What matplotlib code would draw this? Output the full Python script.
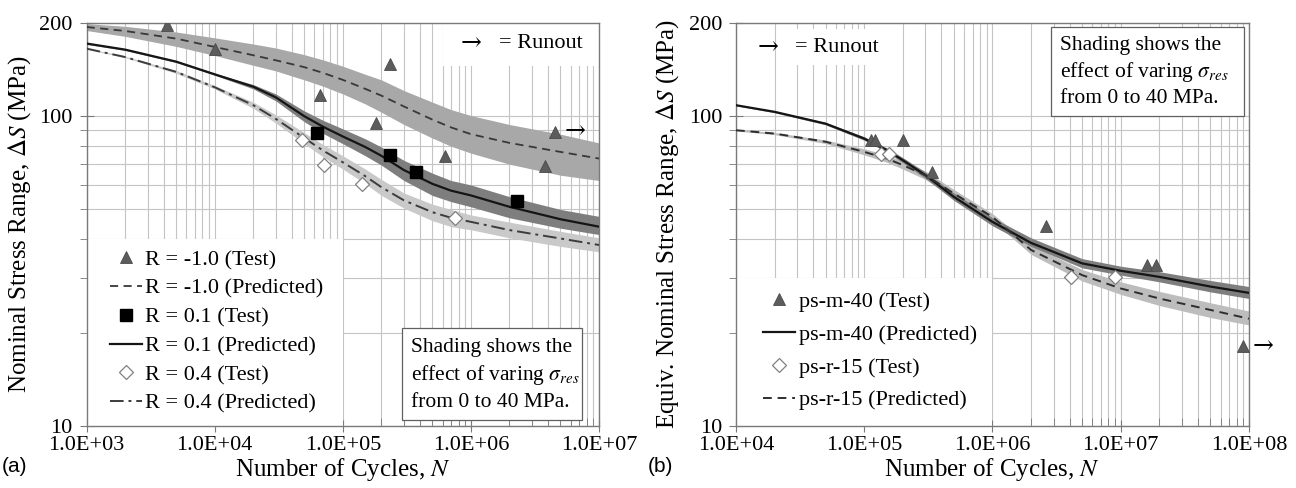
import numpy as np
import matplotlib
matplotlib.use("Agg")
from matplotlib import pyplot as plt
from matplotlib.patches import Rectangle
from matplotlib.ticker import FixedLocator, NullFormatter, FuncFormatter, LogLocator

plt.rcParams['font.family'] = ['Liberation Serif', 'DejaVu Serif']
plt.rcParams['mathtext.fontset'] = 'stix'

# ---------------- panel (a) data ----------------
a_n = [1e3, 2e3, 5e3, 1e4, 2e4, 3e4, 5e4, 7e4, 1e5, 1.5e5, 2e5, 3e5, 5e5, 7e5, 1e6, 2e6, 5e6, 1e7]

rm1_pred = [194, 188.4, 178, 167.3, 157.3, 151.5, 144, 138, 131, 122.5, 116.5, 107.5, 97.5, 92, 87.5, 82, 76.7, 73]
rm1_hi = [199, 195, 187, 179, 171, 166, 158, 152, 145, 136.5, 131, 121, 111, 105, 100.5, 94, 87.5, 82]
rm1_lo = [189, 181, 168, 157, 146, 140, 131, 125, 118, 109.5, 103, 94, 85, 80, 76, 70, 64.5, 62]

r01_pred = [171.6, 164, 150, 136.5, 124.5, 115, 100, 92.5, 86, 79.5, 74.5, 67, 60.5, 57.5, 55.5, 51, 46.5, 44]
r01_hi = [172.5, 165, 151, 137.5, 126.5, 118, 104, 97, 91, 84.5, 79.5, 72, 65.5, 62, 60, 55, 50, 47.5]
r01_lo = [170.5, 163, 149, 135.5, 122.5, 112, 96, 88, 81.5, 74.5, 69.5, 62, 55.5, 53, 51, 47, 43.5, 41.5]

r04_pred = [165.2, 155.2, 139, 124, 108.5, 98, 85, 77.5, 71, 64, 59, 53.5, 49, 47, 45.6, 42.9, 40.3, 38.4]
r04_hi = [166, 156, 140.5, 125.5, 111, 101, 88.5, 81, 74.5, 67.5, 62.5, 56.5, 52, 50, 48, 45.5, 42.5, 40.5]
r04_lo = [164.5, 154.5, 137.5, 122.5, 106, 95, 81.5, 74, 67.5, 60.5, 55.5, 50.5, 46, 44, 43, 40.5, 38, 36.5]

rm1_test_n = [4.2e3, 1.0e4, 6.6e4, 2.33e5, 1.81e5, 6.3e5, 3.8e6, 4.56e6]
rm1_test_s = [197, 165, 117, 147, 95, 74.4, 69, 89]
r01_test_n = [6.25e4, 2.33e5, 3.75e5, 2.27e6]
r01_test_s = [88.3, 75.2, 66.3, 53.4]
r04_test_n = [4.8e4, 7.1e4, 1.41e5, 7.5e5]
r04_test_s = [83.9, 69.8, 60.6, 46.8]
a_runout = (4.56e6, 89)

# ---------------- panel (b) data ----------------
b_n = [1e4, 2e4, 5e4, 1e5, 1.5e5, 2e5, 3e5, 5e5, 1e6, 2e6, 5e6, 1e7, 2e7, 5e7, 1e8]

m40_pred = [108.5, 103.3, 94.6, 84.7, 77.7, 72.1, 64.5, 54.9, 45.6, 39, 33.5, 31.7, 30.3, 28.2, 26.9]
m40_hi = [109, 104, 95.5, 85.8, 79, 73.5, 66, 56.5, 47, 40.5, 34.7, 32.8, 31.5, 29.5, 28.2]
m40_lo = [108, 102.6, 93.8, 83.6, 76.5, 70.8, 63, 53.5, 44.3, 38, 32.4, 30.7, 29.2, 27.1, 25.8]

r15_pred = [90.1, 87.9, 82.7, 76.7, 73, 69.5, 64.5, 56.3, 47.3, 37, 30.7, 27.8, 25.8, 23.7, 22.2]
r15_hi = [90.6, 88.6, 83.8, 78.5, 75, 71.5, 66.5, 58, 48.5, 38.3, 32, 29.2, 27.2, 25, 23.5]
r15_lo = [89.6, 87.2, 81.6, 75, 71, 67.5, 62.5, 54.5, 46, 35.8, 29.4, 26.6, 24.5, 22.4, 21.2]

m40_test_n = [1.13e5, 1.22e5, 2.0e5, 3.38e5, 2.63e6, 1.6e7, 1.9e7, 9.0e7]
m40_test_s = [84, 84, 84, 66, 44.2, 33, 33, 18.1]
r15_test_n = [1.35e5, 1.56e5, 4.07e6, 9.1e6]
r15_test_s = [75.6, 75.6, 30.2, 30.2]
b_runout = (9.0e7, 18.1)

TRI = dict(marker='^', ls='none', ms=9, mfc='#5c5c5c', mec='#4a4a4a', mew=0.6)
SQR = dict(marker='s', ls='none', ms=8.5, mfc='black', mec='black')
DIA = dict(marker='D', ls='none', ms=7, mfc='white', mec='#808080', mew=0.9)

FS_TICK = 16
FS_LAB = 18
FS_LEG = 16
FS_NOTE = 15.5


def style_axes(ax, xmin, xmax):
    ax.set_xscale('log')
    ax.set_yscale('log')
    ax.set_xlim(xmin, xmax)
    ax.set_ylim(10, 200)
    ax.set_axisbelow(True)
    ax.xaxis.set_major_locator(LogLocator(base=10, numticks=20))
    ax.xaxis.set_minor_locator(LogLocator(base=10, subs=np.arange(2, 10), numticks=20))
    ax.xaxis.set_major_formatter(FuncFormatter(lambda v, p: f"{v:.1E}"))
    ax.xaxis.set_minor_formatter(NullFormatter())
    ax.yaxis.set_major_locator(FixedLocator([10, 100, 200]))
    ax.yaxis.set_minor_locator(FixedLocator([20, 30, 40, 50, 60, 70, 80, 90]))
    ax.yaxis.set_major_formatter(FuncFormatter(lambda v, p: f"{v:g}"))
    ax.yaxis.set_minor_formatter(NullFormatter())
    ax.grid(True, which='both', color='#c4c4c4', lw=0.8)
    for sp in ax.spines.values():
        sp.set_color('#7a7a7a')
        sp.set_linewidth(1.0)
    ax.tick_params(axis='x', which='major', direction='inout', length=8, color='#7a7a7a',
                   labelsize=FS_TICK, pad=3)
    ax.tick_params(axis='x', which='minor', direction='in', length=6, color='#7a7a7a')
    ax.tick_params(axis='y', which='major', direction='inout', length=10, color='#7a7a7a',
                   labelsize=FS_TICK, pad=5)
    ax.tick_params(axis='y', which='minor', direction='out', length=5, color='#7a7a7a')
    ax.set_xlabel("Number of Cycles, $N$", fontsize=FS_LAB)
    ax.xaxis.set_label_coords(0.5, -0.074)


def runout_arrow(ax, pt):
    ax.annotate("\u2192", xy=pt, xytext=(7, 0), textcoords='offset points',
                ha='left', va='center', fontsize=18, annotation_clip=False,
                family=['DejaVu Serif'])


def shading_note(ax, x0, y0, w, h):
    ax.add_patch(Rectangle((x0, y0), w, h, transform=ax.transAxes, fc='white',
                           ec='#606060', lw=0.9, zorder=6))
    lines = ["Shading shows the", r"effect of varing $\sigma_{res}$", "from 0 to 40 MPa."]
    step = h / 3.35
    for i, t in enumerate(lines):
        ax.text(x0 + 0.018, y0 + h - step * (i + 0.7), t, transform=ax.transAxes,
                ha='left', va='center', fontsize=FS_NOTE, zorder=7)


fig = plt.figure(figsize=(12.96, 4.88), dpi=100)
ax1 = fig.add_axes([0.0669, 0.127, 0.3953, 0.826])
ax2 = fig.add_axes([0.5679, 0.127, 0.3958, 0.826])

# ---------------- panel (a) ----------------
style_axes(ax1, 1e3, 1e7)
ax1.fill_between(a_n, rm1_lo, rm1_hi, color='#a8a8a8', lw=0, zorder=1)
ax1.fill_between(a_n, r04_lo, r04_hi, color='#c9c9c9', lw=0, zorder=1)
ax1.fill_between(a_n, r01_lo, r01_hi, color='#7e7e7e', lw=0, zorder=1.1)
l_rm1, = ax1.plot(a_n, rm1_pred, color='#383838', lw=1.3, ls=(0, (4.5, 3)), zorder=3)
l_r01, = ax1.plot(a_n, r01_pred, color='#151515', lw=1.6, zorder=3)
l_r04, = ax1.plot(a_n, r04_pred, color='#3c3c3c', lw=1.4, ls=(0, (7, 2.5, 1.5, 2.5)), zorder=3)
m_rm1, = ax1.plot(rm1_test_n, rm1_test_s, zorder=4, **TRI)
m_r01, = ax1.plot(r01_test_n, r01_test_s, zorder=4, **SQR)
m_r04, = ax1.plot(r04_test_n, r04_test_s, zorder=4, **DIA)
runout_arrow(ax1, a_runout)

ax1.set_ylabel(r"Nominal Stress Range, $\Delta S$ (MPa)", fontsize=FS_LAB)
ax1.yaxis.set_label_coords(-0.105, 0.5)

# white areas behind legend and runout key
ax1.add_patch(Rectangle((1e3, 10), 1e5 - 1e3, 30, fc='white', ec='none', zorder=1.5))
ax1.add_patch(Rectangle((0.695, 0.892), 0.305, 0.108, transform=ax1.transAxes,
                        fc='white', ec='none', zorder=1.5))
ax1.text(0.75, 0.95, "\u2192", transform=ax1.transAxes, ha='center', va='center',
         fontsize=18, family=['DejaVu Serif'], zorder=5)
ax1.text(0.968, 0.95, "= Runout", transform=ax1.transAxes, ha='right', va='center',
         fontsize=FS_LEG, zorder=5)

leg1 = ax1.legend([m_rm1, l_rm1, m_r01, l_r01, m_r04, l_r04],
                  ["R = -1.0 (Test)", "R = -1.0 (Predicted)", "R = 0.1 (Test)",
                   "R = 0.1 (Predicted)", "R = 0.4 (Test)", "R = 0.4 (Predicted)"],
                  loc='upper left', bbox_to_anchor=(0.0455, 0.438), frameon=False,
                  fontsize=FS_LEG, handlelength=1.45, handletextpad=0.14, labelspacing=0.37,
                  borderaxespad=0, borderpad=0)
leg1.set_zorder(6)
shading_note(ax1, 0.615, 0.015, 0.352, 0.228)

# ---------------- panel (b) ----------------
style_axes(ax2, 1e4, 1e8)
ax2.fill_between(b_n, r15_lo, r15_hi, color='#bdbdbd', lw=0, zorder=1)
ax2.fill_between(b_n, m40_lo, m40_hi, color='#7e7e7e', lw=0, zorder=1.1)
l_m40, = ax2.plot(b_n, m40_pred, color='#151515', lw=1.6, zorder=3)
l_r15, = ax2.plot(b_n, r15_pred, color='#2e2e2e', lw=1.4, ls=(0, (4.5, 3)), zorder=3)
m_m40, = ax2.plot(m40_test_n, m40_test_s, zorder=4, **TRI)
m_r15, = ax2.plot(r15_test_n, r15_test_s, zorder=4, **DIA)
runout_arrow(ax2, b_runout)

ax2.set_ylabel(r"Equiv. Nominal Stress Range, $\Delta S$ (MPa)", fontsize=FS_LAB)
ax2.yaxis.set_label_coords(-0.107, 0.5)

ax2.add_patch(Rectangle((1e4, 10), 1e6 - 1e4, 20, fc='white', ec='none', zorder=1.5))
ax2.text(0.063, 0.94, "\u2192", transform=ax2.transAxes, ha='center', va='center',
         fontsize=18, family=['DejaVu Serif'], zorder=5)
ax2.text(0.115, 0.94, "= Runout", transform=ax2.transAxes, ha='left', va='center',
         fontsize=FS_LEG, zorder=5, bbox=dict(fc='white', ec='none', pad=6))

leg2 = ax2.legend([m_m40, l_m40, m_r15, l_r15],
                  ["ps-m-40 (Test)", "ps-m-40 (Predicted)", "ps-r-15 (Test)",
                   "ps-r-15 (Predicted)"],
                  loc='upper left', bbox_to_anchor=(0.053, 0.334), frameon=False,
                  fontsize=FS_LEG, handlelength=1.45, handletextpad=0.14, labelspacing=0.55,
                  borderaxespad=0, borderpad=0)
leg2.set_zorder(6)
shading_note(ax2, 0.614, 0.769, 0.376, 0.221)

fig.text(0.001, 0.045, "(a)", family=['Liberation Sans', 'DejaVu Sans'], fontsize=15,
         ha='left', va='center')
fig.text(0.5, 0.045, "(b)", family=['Liberation Sans', 'DejaVu Sans'], fontsize=15,
         ha='left', va='center')

fig.savefig("out.png", dpi=100)
